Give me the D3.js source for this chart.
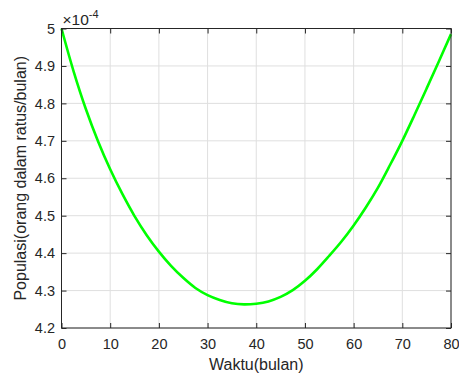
<!DOCTYPE html>
<html>
<head>
<meta charset="utf-8">
<script src="https://cdn.jsdelivr.net/npm/d3@7"></script>
<style>
  html, body { margin: 0; padding: 0; background: #fff; }
  svg { display: block; font-family: "Liberation Sans", Arial, Helvetica, sans-serif; }
</style>
</head>
<body>
<div id="chart"></div>
<script>
// time in months and population (x 10^-4)
const waktu = [0, 2.5, 5, 7.5, 10, 12.5, 15, 17.5, 20, 22.5, 25, 27.5, 30, 32.5, 35, 37.5,
  40, 42.5, 45, 47.5, 50, 52.5, 55, 57.5, 60, 62.5, 65, 67.5, 70, 72.5, 75, 77.5, 80];
const populasi = [5.000, 4.885, 4.785, 4.699, 4.624, 4.558, 4.499, 4.448, 4.404, 4.366, 4.334,
  4.307, 4.288, 4.275, 4.266, 4.263, 4.265, 4.271, 4.283, 4.301, 4.326, 4.357, 4.393, 4.431,
  4.474, 4.522, 4.575, 4.636, 4.700, 4.769, 4.840, 4.912, 4.985];
const xTicks = [0, 10, 20, 30, 40, 50, 60, 70, 80];
const yTicks = [4.2, 4.3, 4.4, 4.5, 4.6, 4.7, 4.8, 4.9, 5];

const points = waktu.map((t, i) => ({ t, p: populasi[i] }));

const W = 459, H = 379;
const margin = { top: 28.5, right: 8, bottom: 51, left: 61.5 };
const width = W - margin.left - margin.right;
const height = H - margin.top - margin.bottom;
const axisColor = '#262626';

const svg = d3.select('#chart')
  .append('svg')
  .attr('width', W)
  .attr('height', H);

const g = svg.append('g')
  .attr('transform', `translate(${margin.left},${margin.top})`);

const x = d3.scaleLinear().domain([0, 80]).range([0, width]);
const y = d3.scaleLinear().domain([4.2, 5]).range([height, 0]);

// grid
g.append('g')
  .selectAll('line')
  .data(xTicks)
  .enter()
  .append('line')
  .attr('x1', d => x(d)).attr('x2', d => x(d))
  .attr('y1', 0).attr('y2', height)
  .attr('stroke', '#dfdfdf').attr('stroke-width', 1);

g.append('g')
  .selectAll('line')
  .data(yTicks)
  .enter()
  .append('line')
  .attr('x1', 0).attr('x2', width)
  .attr('y1', d => y(d)).attr('y2', d => y(d))
  .attr('stroke', '#dfdfdf').attr('stroke-width', 1);

// curve
const line = d3.line()
  .x(d => x(d.t))
  .y(d => y(d.p))
  .curve(d3.curveCatmullRom);

g.append('path')
  .datum(points)
  .attr('fill', 'none')
  .attr('stroke', '#00ff00')
  .attr('stroke-width', 2.6)
  .attr('d', line);

// axes (ticks point inward, like matlab)
function styleAxis(sel) {
  sel.select('.domain').remove();
  sel.selectAll('line').attr('stroke', axisColor);
  sel.selectAll('text').attr('fill', axisColor).style('font-size', '14.5px');
}

g.append('g')
  .attr('transform', `translate(0,${height})`)
  .call(d3.axisBottom(x).tickValues(xTicks).tickSize(-5).tickPadding(11).tickFormat(d3.format('d')))
  .call(styleAxis);

g.append('g')
  .call(d3.axisTop(x).tickValues(xTicks).tickSize(-5).tickFormat(''))
  .call(styleAxis);

g.append('g')
  .call(d3.axisLeft(y).tickValues(yTicks).tickSize(-5).tickPadding(6.5).tickFormat(d => d3.format('')(+d.toFixed(1))))
  .call(styleAxis);

g.append('g')
  .attr('transform', `translate(${width},0)`)
  .call(d3.axisRight(y).tickValues(yTicks).tickSize(-5).tickFormat(''))
  .call(styleAxis);

// box
g.append('rect')
  .attr('x', 0).attr('y', 0)
  .attr('width', width).attr('height', height)
  .attr('fill', 'none')
  .attr('stroke', axisColor)
  .attr('stroke-width', 1);

// exponent label
const expo = g.append('text')
  .attr('x', 1)
  .attr('y', -4)
  .attr('fill', axisColor)
  .style('font-size', '15.5px');
expo.append('tspan').text('\u00d710');
expo.append('tspan').attr('dy', -7).style('font-size', '11px').text('-4');

// axis labels
g.append('text')
  .attr('x', width / 2)
  .attr('y', height + 42)
  .attr('text-anchor', 'middle')
  .attr('fill', axisColor)
  .style('font-size', '16px')
  .text('Waktu(bulan)');

g.append('text')
  .attr('transform', 'rotate(-90)')
  .attr('x', -height / 2)
  .attr('y', -36)
  .attr('text-anchor', 'middle')
  .attr('fill', axisColor)
  .style('font-size', '16px')
  .text('Populasi(orang dalam ratus/bulan)');
</script>
</body>
</html>
